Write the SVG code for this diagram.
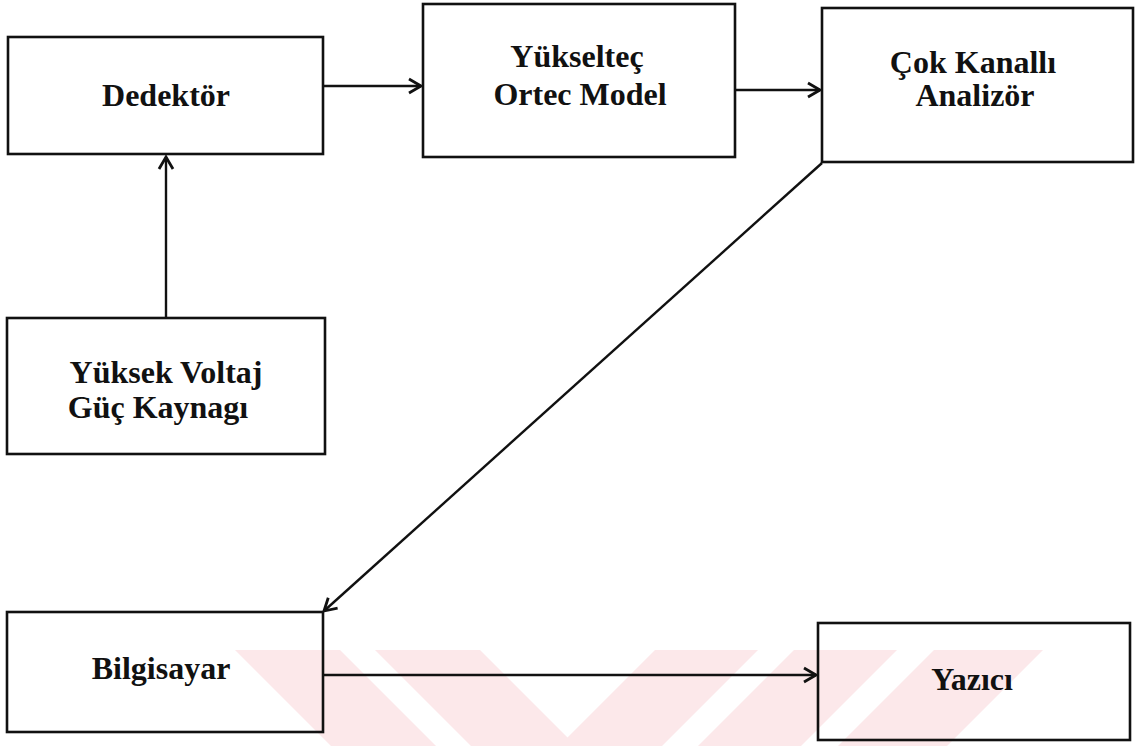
<svg xmlns="http://www.w3.org/2000/svg" width="1135" height="746" viewBox="0 0 1135 746">
  <style>
    .box { fill: none; stroke: #111; stroke-width: 2.6; }
    .lbl { font-family: "Liberation Serif", "Times New Roman", serif; font-weight: bold; font-size: 32px; fill: #111; text-anchor: middle; }
    .conn { fill: none; stroke: #111; stroke-width: 2.4; }
    .wm { fill: #fce8ea; }
  </style>
  <defs>
    <marker id="arr" markerUnits="userSpaceOnUse" viewBox="-14 -10 16 20" refX="0" refY="0" markerWidth="16" markerHeight="20" orient="auto">
      <path d="M-12,-7 L0,0 L-12,7" fill="none" stroke="#111" stroke-width="2.8" stroke-linejoin="miter"/>
    </marker>
  </defs>
  <rect width="1135" height="746" fill="#ffffff"/>
  <g id="watermark">
    <polygon class="wm" points="235,650 340,650 436,746 331,746"/>
    <polygon class="wm" points="375,650 480,650 576,746 471,746"/>
    <polygon class="wm" points="655,650 758,650 662,746 559,746"/>
    <polygon class="wm" points="794,650 897,650 801,746 698,746"/>
    <polygon class="wm" points="934,650 1043,650 947,746 838,746"/>
  </g>
  <g id="connectors">
    <line class="conn" x1="323" y1="86" x2="421" y2="86" marker-end="url(#arr)"/>
    <line class="conn" x1="735" y1="90" x2="820" y2="90" marker-end="url(#arr)"/>
    <line class="conn" x1="166" y1="318" x2="166" y2="157" marker-end="url(#arr)"/>
    <line class="conn" x1="822" y1="163" x2="324" y2="611" marker-end="url(#arr)"/>
    <line class="conn" x1="323" y1="675" x2="816" y2="675" marker-end="url(#arr)"/>
  </g>
  <g id="dedektor">
    <rect class="box" x="8" y="37" width="315" height="117"/>
    <text class="lbl" x="166" y="106">Dedektör</text>
  </g>
  <g id="yukseltec">
    <rect class="box" x="423" y="4" width="312" height="153"/>
    <text class="lbl" x="577" y="67">Yükselteç</text>
    <text class="lbl" x="580" y="105">Ortec Model</text>
  </g>
  <g id="cok-kanalli">
    <rect class="box" x="822" y="8" width="311" height="154"/>
    <text class="lbl" x="973" y="73">Çok Kanallı</text>
    <text class="lbl" x="975" y="106">Analizör</text>
  </g>
  <g id="yuksek-voltaj">
    <rect class="box" x="7" y="318" width="318" height="136"/>
    <text class="lbl" x="166" y="383">Yüksek Voltaj</text>
    <text class="lbl" x="158" y="418">Güç Kaynagı</text>
  </g>
  <g id="bilgisayar">
    <rect class="box" x="7" y="612" width="316" height="120"/>
    <text class="lbl" x="161" y="679">Bilgisayar</text>
  </g>
  <g id="yazici">
    <rect class="box" x="818" y="623" width="312" height="117"/>
    <text class="lbl" x="972" y="690">Yazıcı</text>
  </g>
</svg>
